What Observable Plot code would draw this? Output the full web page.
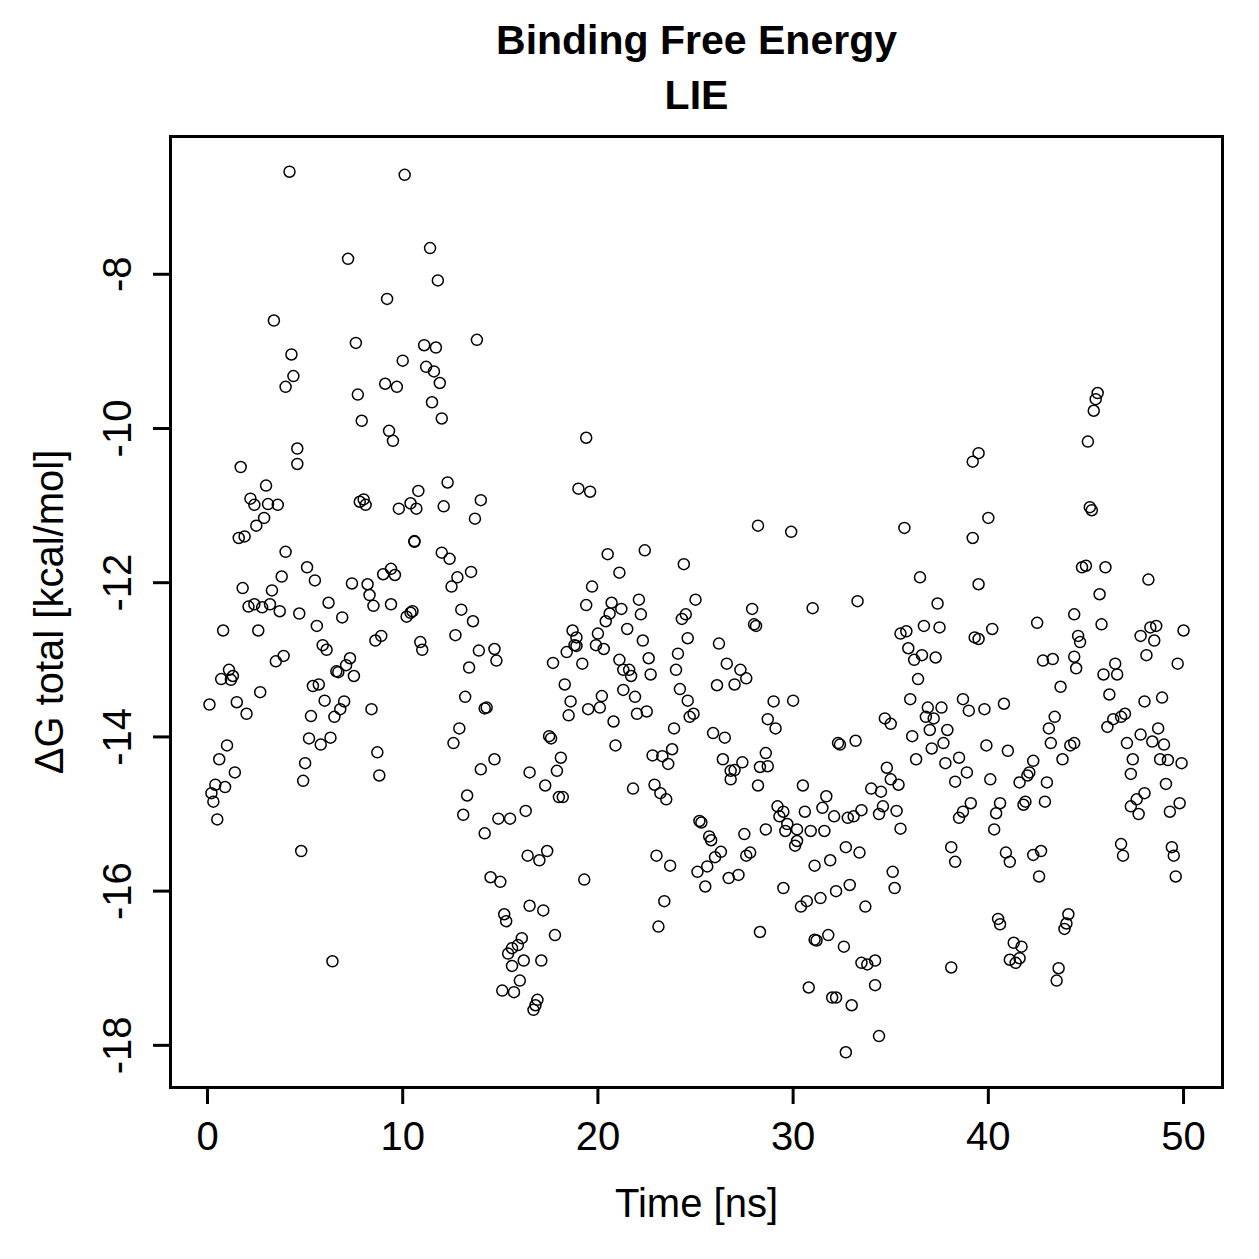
<!DOCTYPE html>
<html>
<head>
<meta charset="utf-8">
<script src="https://cdn.jsdelivr.net/npm/d3@7"></script>
<script src="https://cdn.jsdelivr.net/npm/@observablehq/plot@0.6"></script>
<style>
  html, body { margin: 0; padding: 0; background: #fff; overflow: hidden; }
  #chart svg { display: block; }
</style>
</head>
<body>
<div id="chart"></div>
<script>
// Labels and tick values
const chartTitle = "Binding Free Energy";
const chartSubtitle = "LIE";
const xLabel = "Time [ns]";
const yLabel = "ΔG total [kcal/mol]";
const xTicks = [0, 10, 20, 30, 40, 50];
const yTicks = [-18, -16, -14, -12, -10, -8];

// LIE binding free energy samples: [time (ns), ΔG total (kcal/mol)]
const samples = [
  [4.2,-6.67],[3.4,-8.60],[4.3,-9.04],[4.4,-9.32],[4.0,-9.46],[1.7,-10.50],[3.0,-10.74],[2.2,-10.91],[2.4,-10.99],[3.1,-10.98],
  [3.6,-10.99],[2.9,-11.16],[2.5,-11.26],[1.6,-11.42],[1.9,-11.40],[4.0,-11.60],[3.8,-11.92],[1.8,-12.07],[3.3,-12.10],[2.1,-12.31],
  [2.4,-12.28],[2.8,-12.32],[3.2,-12.28],[3.7,-12.37],[0.8,-12.62],[2.6,-12.62],[3.5,-13.02],[3.9,-12.95],[1.1,-13.13],[0.7,-13.25],
  [1.2,-13.26],[1.3,-13.21],[2.7,-13.42],[0.1,-13.58],[1.5,-13.55],[2.0,-13.70],[1.0,-14.11],[0.6,-14.29],[1.4,-14.46],[0.4,-14.62],
  [0.2,-14.73],[0.9,-14.65],[0.3,-14.84],[0.5,-15.07],
  [4.6,-10.26],[4.6,-10.46],[7.2,-7.80],[9.2,-8.32],[7.6,-8.89],[7.7,-9.56],[9.1,-9.42],[9.7,-9.46],[7.9,-9.90],[9.3,-10.03],
  [9.5,-10.16],[7.8,-10.95],[8.0,-10.92],[8.1,-10.99],[9.8,-11.04],[5.1,-11.80],[5.5,-11.97],[7.4,-12.01],[8.2,-12.02],[8.3,-12.16],
  [8.5,-12.30],[9.0,-11.89],[9.4,-11.82],[9.6,-11.90],[9.4,-12.28],[4.7,-12.40],[6.2,-12.26],[5.6,-12.56],[6.9,-12.45],[5.9,-12.81],
  [6.1,-12.87],[8.6,-12.75],[8.9,-12.69],[7.3,-12.98],[7.1,-13.07],[6.6,-13.15],[6.7,-13.16],[7.5,-13.21],[5.4,-13.34],[5.7,-13.32],
  [6.0,-13.53],[7.0,-13.54],[6.8,-13.64],[6.5,-13.74],[8.4,-13.64],[5.3,-13.73],[5.2,-14.02],[5.8,-14.10],[6.3,-14.01],[5.0,-14.34],
  [4.9,-14.57],[8.7,-14.20],[8.8,-14.50],[4.8,-15.48],[6.4,-16.91],
  [10.1,-6.71],[11.4,-7.66],[11.8,-8.08],[13.8,-8.85],[11.1,-8.92],[11.7,-8.95],[10.0,-9.12],[11.2,-9.20],[11.6,-9.26],[11.9,-9.41],
  [11.5,-9.66],[12.0,-9.87],[12.3,-10.70],[10.8,-10.81],[10.4,-10.97],[10.7,-11.04],[12.1,-11.01],[14.0,-10.93],[13.7,-11.17],[10.6,-11.46],
  [10.6,-11.47],[12.0,-11.61],[12.4,-11.69],[12.8,-11.93],[13.5,-11.86],[12.5,-12.05],[13.0,-12.35],[13.6,-12.50],[12.7,-12.68],[10.2,-12.44],
  [10.4,-12.39],[10.5,-12.37],[10.9,-12.77],[11.0,-12.87],[13.9,-12.88],[13.4,-13.10],[13.2,-13.48],[14.2,-13.63],[14.3,-13.62],[12.9,-13.89],
  [12.6,-14.08],[14.0,-14.42],[13.3,-14.76],[13.1,-15.01],[14.2,-15.25],
  [19.4,-10.12],[19.0,-10.78],[19.6,-10.82],[19.7,-12.05],[19.4,-12.29],[14.7,-12.86],[14.8,-13.01],[18.7,-12.62],[18.9,-12.71],[18.8,-12.81],
  [18.9,-12.82],[17.7,-13.04],[18.4,-12.90],[19.2,-13.05],[18.3,-13.32],[18.6,-13.54],[18.5,-13.72],[19.5,-13.64],[17.5,-13.99],[17.6,-14.02],
  [18.1,-14.27],[17.9,-14.44],[14.7,-14.29],[16.5,-14.46],[17.3,-14.63],[18.0,-14.78],[18.2,-14.78],[16.3,-14.96],[14.9,-15.06],[15.5,-15.06],
  [16.4,-15.54],[17.0,-15.60],[17.4,-15.48],[14.5,-15.82],[15.0,-15.88],[19.3,-15.85],[15.2,-16.30],[15.3,-16.39],[16.5,-16.19],[17.2,-16.25],
  [17.8,-16.57],[16.1,-16.61],[15.9,-16.70],[15.6,-16.74],[15.4,-16.81],[16.2,-16.90],[15.6,-16.97],[17.1,-16.90],[16.0,-17.16],[15.1,-17.29],
  [15.7,-17.31],[16.9,-17.41],[16.8,-17.48],[16.7,-17.54],
  [20.5,-11.63],[22.4,-11.58],[24.4,-11.76],[21.1,-11.87],[20.7,-12.26],[21.2,-12.34],[22.1,-12.22],[22.2,-12.41],[20.6,-12.40],[20.4,-12.50],
  [24.3,-12.47],[24.5,-12.41],[21.5,-12.60],[20.0,-12.66],[19.9,-12.81],[20.3,-12.86],[22.3,-12.75],[24.6,-12.72],[24.1,-12.92],[21.1,-13.00],
  [22.6,-12.98],[22.7,-13.19],[21.3,-13.13],[21.6,-13.13],[21.7,-13.21],[24.0,-13.13],[21.3,-13.39],[21.9,-13.48],[20.2,-13.47],[20.1,-13.62],
  [22.0,-13.70],[22.5,-13.67],[24.2,-13.38],[24.6,-13.53],[24.7,-13.74],[20.8,-13.80],[20.9,-14.11],[23.9,-13.89],[23.8,-14.16],[22.8,-14.24],
  [23.3,-14.25],[23.6,-14.35],[21.8,-14.67],[22.9,-14.62],[23.2,-14.73],[23.5,-14.81],[23.0,-15.54],[23.7,-15.67],[23.4,-16.13],[23.1,-16.46],
  [28.2,-11.26],[25.0,-12.22],[27.9,-12.34],[28.0,-12.54],[28.1,-12.56],[26.2,-12.79],[26.6,-13.05],[27.3,-13.13],[27.6,-13.24],[26.1,-13.33],
  [27.0,-13.32],[24.9,-13.70],[29.0,-13.54],[28.7,-13.77],[29.1,-13.89],[25.9,-13.95],[26.5,-14.01],[26.4,-14.29],[27.4,-14.33],[26.8,-14.44],
  [27.0,-14.43],[26.8,-14.55],[28.6,-14.21],[28.3,-14.39],[28.7,-14.38],[28.2,-14.63],[29.2,-14.90],[29.5,-14.97],[29.3,-15.03],[29.7,-15.13],
  [29.6,-15.22],[28.6,-15.20],[25.2,-15.09],[25.3,-15.11],[25.7,-15.29],[25.8,-15.34],[27.5,-15.26],[26.3,-15.49],[26.0,-15.56],[27.8,-15.50],
  [27.6,-15.54],[25.6,-15.68],[25.1,-15.75],[25.5,-15.94],[26.7,-15.83],[27.2,-15.79],[28.3,-16.53],[29.5,-15.96],
  [29.9,-11.34],[33.3,-12.24],[31.0,-12.33],[30.0,-13.53],[32.4,-14.10],[32.3,-14.08],[33.2,-14.05],[30.5,-14.63],[31.7,-14.77],[34.0,-14.67],
  [34.5,-14.71],[30.6,-14.97],[31.5,-14.92],[32.1,-15.03],[32.8,-15.05],[33.1,-15.03],[33.5,-14.95],[34.4,-15.00],[30.2,-15.20],[30.9,-15.22],
  [31.6,-15.22],[30.1,-15.41],[30.2,-15.35],[32.7,-15.43],[33.4,-15.50],[31.1,-15.67],[31.9,-15.60],[32.2,-16.00],[30.7,-16.13],[30.4,-16.20],
  [31.4,-16.09],[32.9,-15.92],[33.7,-16.20],[31.1,-16.63],[31.2,-16.64],[31.8,-16.57],[32.6,-16.72],[33.5,-16.93],[33.8,-16.95],[34.2,-16.90],
  [34.2,-17.22],[30.8,-17.25],[32.0,-17.38],[32.2,-17.38],[33.0,-17.48],[34.4,-17.88],[32.7,-18.09],
  [39.5,-10.32],[39.2,-10.43],[35.7,-11.29],[39.2,-11.42],[39.5,-12.02],[36.5,-11.93],[37.4,-12.27],[35.5,-12.66],[35.8,-12.63],[36.7,-12.56],
  [37.5,-12.58],[39.3,-12.71],[39.5,-12.73],[35.9,-12.85],[36.2,-13.00],[36.6,-12.94],[37.3,-12.97],[36.4,-13.25],[36.0,-13.51],[36.9,-13.62],
  [37.6,-13.62],[36.8,-13.74],[37.2,-13.76],[37.0,-13.91],[37.9,-13.91],[38.7,-13.51],[39.0,-13.66],[34.7,-13.76],[35.0,-13.83],[36.1,-13.99],
  [37.1,-14.15],[37.7,-14.08],[36.3,-14.29],[37.8,-14.34],[38.5,-14.27],[38.9,-14.46],[38.3,-14.58],[34.8,-14.40],[35.0,-14.55],[35.4,-14.62],
  [38.5,-15.05],[38.7,-14.97],[39.1,-14.86],[34.6,-14.90],[35.3,-14.96],[35.5,-15.19],[38.1,-15.43],[38.3,-15.62],[35.1,-15.75],[35.2,-15.96],
  [38.1,-16.99],
  [40.0,-11.16],[42.5,-12.52],[40.2,-12.60],[44.4,-12.41],[44.6,-12.69],[44.7,-12.77],[44.4,-12.96],[44.5,-13.11],[42.8,-13.01],[43.3,-12.99],
  [43.7,-13.35],[39.8,-13.64],[40.8,-13.57],[43.4,-13.74],[43.1,-13.89],[43.2,-14.08],[44.4,-14.08],[44.2,-14.11],[43.8,-14.29],[39.9,-14.11],
  [41.0,-14.18],[40.1,-14.55],[40.6,-14.86],[40.4,-14.99],[40.3,-15.20],[42.3,-14.31],[42.1,-14.46],[42.0,-14.50],[41.6,-14.59],[41.9,-14.84],
  [41.8,-14.88],[43.0,-14.59],[42.9,-14.84],[40.9,-15.50],[41.1,-15.62],[42.3,-15.53],[42.7,-15.48],[42.6,-15.81],[40.5,-16.36],[40.6,-16.43],
  [44.1,-16.30],[44.0,-16.42],[43.9,-16.49],[41.3,-16.67],[41.7,-16.72],[41.1,-16.89],[41.4,-16.93],[41.6,-16.87],[43.6,-17.00],[43.5,-17.16],
  [45.6,-9.54],[45.5,-9.62],[45.4,-9.77],[45.1,-10.17],[45.2,-11.02],[45.3,-11.06],[44.8,-11.80],[45.0,-11.78],[46.0,-11.80],[48.2,-11.96],
  [45.7,-12.15],[45.8,-12.54],[47.8,-12.69],[48.3,-12.58],[48.6,-12.56],[48.5,-12.75],[50.0,-12.62],[48.1,-12.94],[49.7,-13.05],[46.5,-13.05],
  [45.9,-13.19],[46.6,-13.19],[46.2,-13.45],[48.0,-13.54],[48.9,-13.49],[47.0,-13.70],[46.8,-13.74],[46.4,-13.77],[46.1,-13.87],[47.8,-13.97],
  [47.1,-14.08],[48.7,-13.89],[48.4,-14.06],[49.0,-14.10],[48.8,-14.29],[49.2,-14.30],[49.9,-14.34],[47.4,-14.29],[47.3,-14.48],[49.1,-14.61],
  [48.0,-14.73],[47.6,-14.81],[47.3,-14.90],[47.7,-15.00],[49.8,-14.86],[49.3,-14.97],[46.8,-15.39],[46.9,-15.54],[49.4,-15.43],[49.5,-15.54],
  [49.6,-15.81]
];

// Axis range padded by 4% on each side, as in base R graphics
function paddedRange(values) {
  const [lo, hi] = d3.extent(values);
  const pad = (hi - lo) * 0.04;
  return [lo - pad, hi + pad];
}

const fontFamily = "'Liberation Sans', Arial, Helvetica, sans-serif";

const chart = Plot.plot({
  width: 1259,
  height: 1259,
  marginLeft: 170,
  marginRight: 37,
  marginTop: 136,
  marginBottom: 172,
  style: { fontFamily, background: "white", color: "black", overflow: "visible" },
  x: { domain: paddedRange(samples.map(d => d[0])), axis: null },
  y: { domain: paddedRange(samples.map(d => d[1])), axis: null },
  marks: [
    Plot.dot(samples, {
      x: d => d[0], y: d => d[1],
      r: 5.5, stroke: "black", strokeWidth: 1.5, fill: "none"
    }),
    Plot.frame({ stroke: "black", strokeWidth: 3 }),
    // tick marks only; labels are drawn below as text
    Plot.axisX({ ticks: xTicks, tickSize: 17, strokeWidth: 3, fill: "none", label: null }),
    Plot.axisY({ ticks: yTicks, tickSize: 17, strokeWidth: 3, fill: "none", label: null }),
    Plot.text(xTicks, {
      x: d => d, text: d => String(d),
      frameAnchor: "bottom", lineAnchor: "bottom", dy: 62,
      fontSize: 40, fill: "black"
    }),
    Plot.text(yTicks, {
      y: d => d, text: d => String(d),
      frameAnchor: "left", lineAnchor: "bottom", textAnchor: "middle",
      rotate: -90, dx: -40, fontSize: 40, fill: "black"
    }),
    Plot.text([xLabel], {
      text: d => d, frameAnchor: "bottom", lineAnchor: "bottom", dy: 129,
      fontSize: 40, fill: "black"
    }),
    Plot.text([yLabel], {
      text: d => d, frameAnchor: "left", lineAnchor: "bottom", textAnchor: "middle",
      rotate: -90, dx: -108, fontSize: 40, fill: "black"
    }),
    Plot.text([chartTitle], {
      text: d => d, frameAnchor: "top", lineAnchor: "bottom", dy: -83,
      fontSize: 41, fontWeight: "bold", fill: "black"
    }),
    Plot.text([chartSubtitle], {
      text: d => d, frameAnchor: "top", lineAnchor: "bottom", dy: -28,
      fontSize: 41, fontWeight: "bold", fill: "black"
    })
  ]
});

document.getElementById("chart").appendChild(chart);
</script>
</body>
</html>
